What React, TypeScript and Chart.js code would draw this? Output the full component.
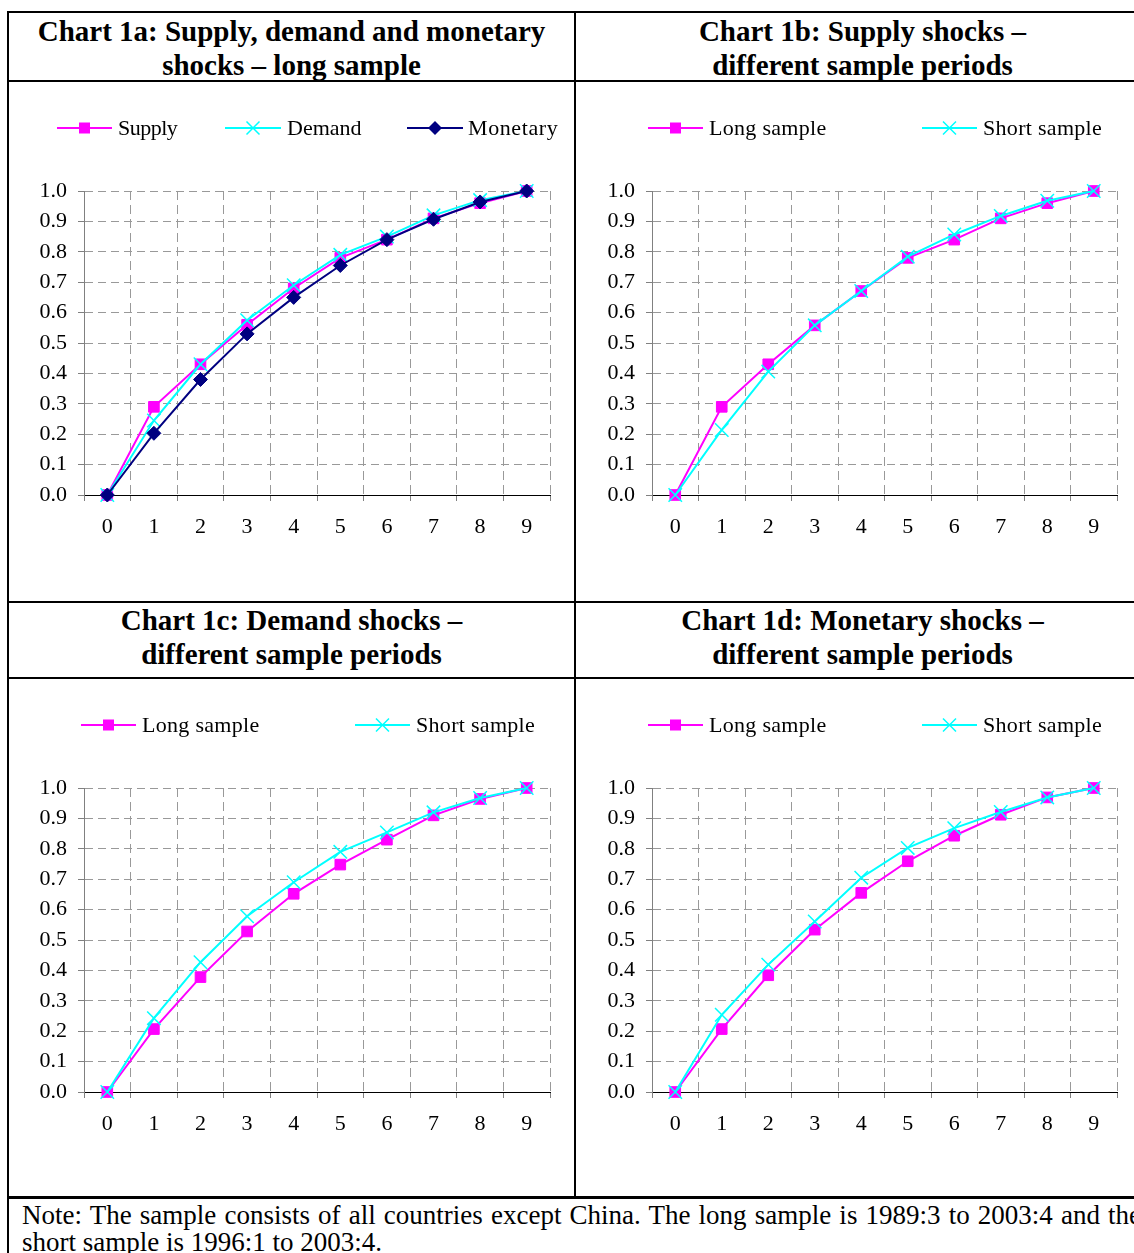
import React, { useEffect, useRef } from 'react';
import { Chart, registerables } from 'chart.js';

Chart.register(...registerables);

// ---------------- data ----------------
const horizons = ['0', '1', '2', '3', '4', '5', '6', '7', '8', '9'];
const yTickLabels = ['0.0', '0.1', '0.2', '0.3', '0.4', '0.5', '0.6', '0.7', '0.8', '0.9', '1.0'];

// Chart 1a: long sample
const supply1a = [0, 0.29, 0.43, 0.56, 0.68, 0.78, 0.84, 0.91, 0.96, 1.0];
const demand1a = [0, 0.245, 0.43, 0.575, 0.69, 0.79, 0.85, 0.92, 0.97, 1.0];
const monetary1a = [0, 0.203, 0.38, 0.53, 0.65, 0.755, 0.84, 0.907, 0.964, 1.0];

// Chart 1b: supply shocks
const supplyLong1b = [0, 0.29, 0.43, 0.558, 0.671, 0.78, 0.84, 0.91, 0.96, 1.0];
const supplyShort1b = [0, 0.214, 0.406, 0.558, 0.671, 0.784, 0.857, 0.918, 0.968, 1.0];

// Chart 1c: demand shocks
const demandLong1c = [0, 0.207, 0.378, 0.528, 0.652, 0.748, 0.83, 0.91, 0.964, 1.0];
const demandShort1c = [0, 0.243, 0.427, 0.578, 0.69, 0.79, 0.854, 0.92, 0.967, 1.0];

// Chart 1d: monetary shocks
const monetaryLong1d = [0, 0.207, 0.384, 0.534, 0.655, 0.759, 0.843, 0.912, 0.969, 1.0];
const monetaryShort1d = [0, 0.254, 0.419, 0.561, 0.705, 0.803, 0.868, 0.921, 0.969, 1.0];

const shockNames = ['Supply', 'Demand', 'Monetary'];
const sampleNames = ['Long sample', 'Short sample'];

const titles = [
  ['Chart 1a: Supply, demand and monetary', 'shocks \u2013 long sample'],
  ['Chart 1b: Supply shocks \u2013', 'different sample periods'],
  ['Chart 1c: Demand shocks \u2013', 'different sample periods'],
  ['Chart 1d: Monetary shocks \u2013', 'different sample periods'],
];
const noteLines = [
  'Note: The sample consists of all countries except China. The long sample is 1989:3 to 2003:4 and the',
  'short sample is 1996:1 to 2003:4.',
];

// ---------------- styles ----------------
const MAGENTA = '#FF00FF';
const CYAN = '#00FFFF';
const NAVY = '#000080';
const GRID = '#999999';
const AXIS_GRAY = '#808080';
const SERIF = "'Liberation Serif', 'Times New Roman', serif";
const TRANSPARENT = 'rgba(0,0,0,0)';

type Marker = 'rect' | 'crossRot' | 'rectRot';

function makeDataset(label: string, data: number[], color: string, marker: Marker, order: number) {
  const markerSize: Record<Marker, { r: number; w: number }> = {
    rect: { r: 7.5, w: 1 },
    crossRot: { r: 9.5, w: 1.5 },
    rectRot: { r: 7, w: 1 },
  };
  return {
    label,
    data,
    borderColor: color,
    backgroundColor: color,
    borderWidth: 2,
    pointStyle: marker,
    pointRadius: markerSize[marker].r,
    pointBorderWidth: markerSize[marker].w,
    pointBackgroundColor: color,
    pointBorderColor: color,
    tension: 0,
    order,
    clip: false as const,
  };
}

function drawMarker(ctx: CanvasRenderingContext2D, style: Marker, x: number, y: number, color: string) {
  ctx.save();
  ctx.fillStyle = color;
  ctx.strokeStyle = color;
  if (style === 'rect') {
    const s = 11;
    ctx.fillRect(x - s / 2, y - s / 2, s, s);
  } else if (style === 'rectRot') {
    const r = 7;
    ctx.beginPath();
    ctx.moveTo(x - r, y);
    ctx.lineTo(x, y - r);
    ctx.lineTo(x + r, y);
    ctx.lineTo(x, y + r);
    ctx.closePath();
    ctx.fill();
  } else {
    const d = 6.5;
    ctx.lineWidth = 1.5;
    ctx.beginPath();
    ctx.moveTo(x - d, y - d);
    ctx.lineTo(x + d, y + d);
    ctx.moveTo(x + d, y - d);
    ctx.lineTo(x - d, y + d);
    ctx.stroke();
  }
  ctx.restore();
}

interface LegendItem {
  label: string;
  color: string;
  marker: Marker;
  x1: number;
  x2: number;
  textX: number;
  spacing: number;
}

interface PanelProps {
  left: number;
  top: number;
  width: number;
  height: number;
  yWidth: number;
  plotRight: number;
  datasets: any[];
  legend: LegendItem[];
}

const PLOT_TOP = 109;
const PLOT_BOTTOM = 413;
const LEGEND_Y = 46;

function ChartPanel(props: PanelProps) {
  const ref = useRef<HTMLCanvasElement | null>(null);
  useEffect(() => {
    const canvas = ref.current;
    if (!canvas) return;
    const legendItems = props.legend;
    const legendPlugin = {
      id: 'lineLegend',
      afterDraw(chart: any) {
        const ctx: CanvasRenderingContext2D = chart.ctx;
        legendItems.forEach((it) => {
          ctx.save();
          ctx.strokeStyle = it.color;
          ctx.lineWidth = 2;
          ctx.beginPath();
          ctx.moveTo(it.x1, LEGEND_Y);
          ctx.lineTo(it.x2, LEGEND_Y);
          ctx.stroke();
          ctx.restore();
          drawMarker(ctx, it.marker, (it.x1 + it.x2) / 2, LEGEND_Y, it.color);
          ctx.save();
          ctx.fillStyle = '#000';
          ctx.font = `22px ${SERIF}`;
          (ctx as any).letterSpacing = `${it.spacing}px`;
          ctx.textAlign = 'left';
          ctx.textBaseline = 'middle';
          ctx.fillText(it.label, it.textX, LEGEND_Y + 1);
          ctx.restore();
        });
      },
    };
    const font = { family: SERIF, size: 22 };
    const chart = new Chart(canvas, {
      type: 'line',
      data: { labels: horizons, datasets: props.datasets },
      options: {
        animation: false,
        responsive: false,
        maintainAspectRatio: false,
        layout: { padding: { top: PLOT_TOP, right: props.width - props.plotRight, bottom: 0, left: 0 } },
        plugins: {
          legend: { display: false },
          tooltip: { enabled: false },
          title: { display: false },
        },
        scales: {
          x: {
            type: 'category',
            offset: true,
            grid: {
              offset: true,
              color: (c: any) => (c.index === 0 ? TRANSPARENT : GRID),
              tickColor: AXIS_GRAY,
              tickLength: 6,
              lineWidth: 1,
            },
            border: { color: '#000', width: 1, dash: [9, 5] },
            ticks: { font, color: '#000', padding: 13, maxRotation: 0, autoSkip: false },
            afterFit: (s: any) => {
              s.height = props.height - PLOT_BOTTOM;
            },
          },
          y: {
            min: 0,
            max: 1,
            ticks: {
              stepSize: 0.1,
              font,
              color: '#000',
              padding: 11,
              callback: (_v: any, i: number) => yTickLabels[i],
            },
            grid: {
              color: (c: any) => (c.index === 0 ? TRANSPARENT : GRID),
              tickColor: AXIS_GRAY,
              tickLength: 6,
              lineWidth: 1,
            },
            border: { color: AXIS_GRAY, width: 1, dash: [8, 5] },
            afterFit: (s: any) => {
              s.width = props.yWidth;
            },
          },
        },
      } as any,
      plugins: [legendPlugin],
    });
    return () => chart.destroy();
  }, []);
  return (
    <canvas
      ref={ref}
      width={props.width}
      height={props.height}
      style={{ position: 'absolute', left: props.left, top: props.top, width: props.width, height: props.height }}
    />
  );
}

function Line(p: { left: number; top: number; width: number; height: number }) {
  return <div style={{ position: 'absolute', background: '#000', ...p }} />;
}

function Title(p: { left: number; top: number; width: number; lines: string[] }) {
  return (
    <div
      style={{
        position: 'absolute',
        left: p.left,
        top: p.top,
        width: p.width,
        textAlign: 'center',
        fontFamily: SERIF,
        fontWeight: 'bold',
        fontSize: 29,
        lineHeight: '34px',
        whiteSpace: 'nowrap',
      }}
    >
      {p.lines.map((l, i) => (
        <div key={i}>{l}</div>
      ))}
    </div>
  );
}

const legendTwo = (): LegendItem[] => [
  { label: sampleNames[0], color: MAGENTA, marker: 'rect', x1: 72, x2: 127, textX: 133, spacing: 0.3 },
  { label: sampleNames[1], color: CYAN, marker: 'crossRot', x1: 346, x2: 401, textX: 407, spacing: 0.3 },
];

export default function App() {
  const ds1a = [
    makeDataset(shockNames[0], supply1a, MAGENTA, 'rect', 2),
    makeDataset(shockNames[1], demand1a, CYAN, 'crossRot', 1),
    makeDataset(shockNames[2], monetary1a, NAVY, 'rectRot', 0),
  ];
  const ds1b = [
    makeDataset(sampleNames[0], supplyLong1b, MAGENTA, 'rect', 1),
    makeDataset(sampleNames[1], supplyShort1b, CYAN, 'crossRot', 0),
  ];
  const ds1c = [
    makeDataset(sampleNames[0], demandLong1c, MAGENTA, 'rect', 1),
    makeDataset(sampleNames[1], demandShort1c, CYAN, 'crossRot', 0),
  ];
  const ds1d = [
    makeDataset(sampleNames[0], monetaryLong1d, MAGENTA, 'rect', 1),
    makeDataset(sampleNames[1], monetaryShort1d, CYAN, 'crossRot', 0),
  ];
  const legend1a: LegendItem[] = [
    { label: shockNames[0], color: MAGENTA, marker: 'rect', x1: 48, x2: 103, textX: 109, spacing: -0.5 },
    { label: shockNames[1], color: CYAN, marker: 'crossRot', x1: 216, x2: 272, textX: 278, spacing: 0 },
    { label: shockNames[2], color: NAVY, marker: 'rectRot', x1: 398, x2: 454, textX: 459, spacing: 0.6 },
  ];

  return (
    <div
      style={{
        position: 'absolute',
        left: 0,
        top: 0,
        width: 1134,
        height: 1253,
        overflow: 'hidden',
        background: '#fff',
      }}
    >
      {/* borders */}
      <Line left={7} top={11} width={1200} height={2} />
      <Line left={7} top={11} width={2} height={1300} />
      <Line left={574} top={11} width={2} height={1186} />
      <Line left={7} top={80} width={1200} height={2} />
      <Line left={7} top={601} width={1200} height={2} />
      <Line left={7} top={677} width={1200} height={2} />
      <Line left={7} top={1196} width={1200} height={3} />

      <Title left={9} top={14} width={565} lines={titles[0]} />
      <Title left={576} top={14} width={573} lines={titles[1]} />
      <Title left={9} top={603} width={565} lines={titles[2]} />
      <Title left={576} top={603} width={573} lines={titles[3]} />

      <ChartPanel left={9} top={82} width={565} height={519} yWidth={75} plotRight={541} datasets={ds1a} legend={legend1a} />
      <ChartPanel left={576} top={82} width={573} height={519} yWidth={76} plotRight={541} datasets={ds1b} legend={legendTwo()} />
      <ChartPanel left={9} top={679} width={565} height={517} yWidth={75} plotRight={541} datasets={ds1c} legend={legendTwo()} />
      <ChartPanel left={576} top={679} width={573} height={517} yWidth={76} plotRight={541} datasets={ds1d} legend={legendTwo()} />

      <div
        style={{
          position: 'absolute',
          left: 22,
          top: 1202,
          fontFamily: SERIF,
          fontSize: 27,
          lineHeight: '27px',
          whiteSpace: 'nowrap',
        }}
      >
        <div style={{ wordSpacing: '1.4px' }}>{noteLines[0]}</div>
        <div>{noteLines[1]}</div>
      </div>
    </div>
  );
}
